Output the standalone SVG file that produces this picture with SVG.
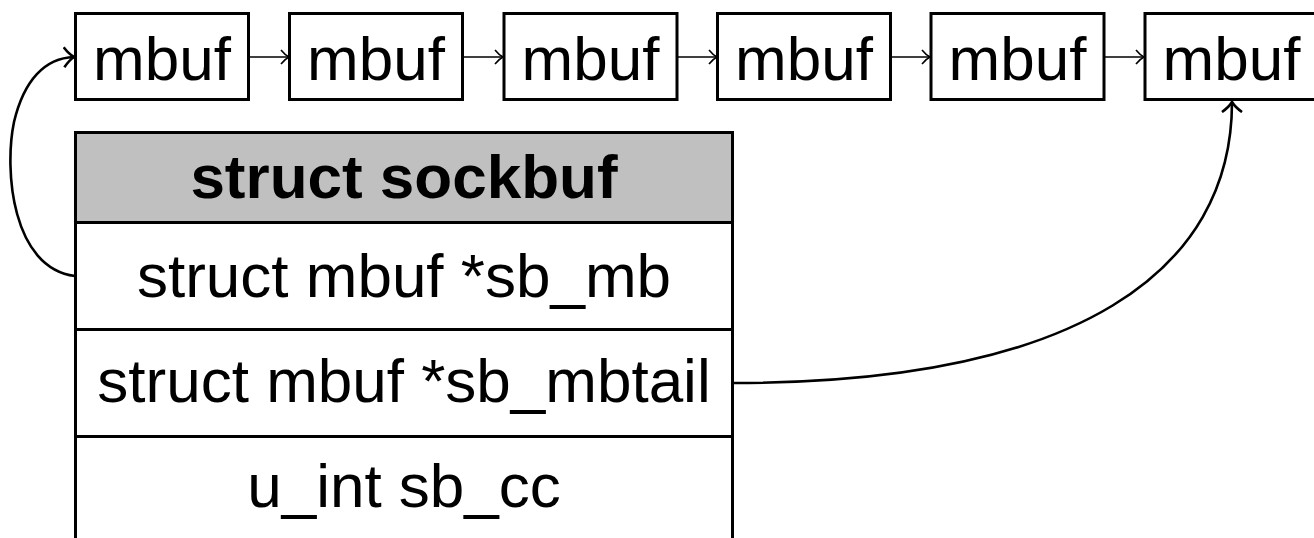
<svg xmlns="http://www.w3.org/2000/svg" width="1314" height="538" viewBox="0 0 1314 538">
<style>
.box{fill:#fff;stroke:#000;stroke-width:3}
.hdr{fill:#c0c0c0;stroke:#000;stroke-width:3}
.t{font-family:"Liberation Sans",Arial,sans-serif;font-size:62px;fill:#000;text-anchor:middle}
.b{font-weight:bold}
.thin{fill:none;stroke:#000;stroke-width:1.6;marker-end:url(#ah)}
.curve{fill:none;stroke:#000;stroke-width:2.6;marker-end:url(#ahb)}
</style>
<defs>
<marker id="ah" markerUnits="userSpaceOnUse" markerWidth="12" markerHeight="18" refX="9" refY="8" orient="auto" viewBox="0 0 12 16">
<path d="M1,1 Q5,6 9,8 Q5,10 1,15" fill="none" stroke="#000" stroke-width="1.6"/>
</marker>
<marker id="ahb" markerUnits="userSpaceOnUse" markerWidth="14" markerHeight="24" refX="11" refY="11" orient="auto" viewBox="0 0 14 22">
<path d="M1,1 Q6,8 11,11 Q6,14 1,21" fill="none" stroke="#000" stroke-width="2.6"/>
</marker>
</defs>
<g id="mbuf1"><rect class="box" x="75.5" y="13.5" width="173" height="86"/><text class="t" x="162" y="80">mbuf</text></g>
<g id="mbuf2"><rect class="box" x="289.5" y="13.5" width="173" height="86"/><text class="t" x="376" y="80">mbuf</text></g>
<g id="mbuf3"><rect class="box" x="504" y="13.5" width="173" height="86"/><text class="t" x="590.5" y="80">mbuf</text></g>
<g id="mbuf4"><rect class="box" x="717.5" y="13.5" width="173" height="86"/><text class="t" x="804" y="80">mbuf</text></g>
<g id="mbuf5"><rect class="box" x="931" y="13.5" width="173" height="86"/><text class="t" x="1017.5" y="80">mbuf</text></g>
<g id="mbuf6"><rect class="box" x="1145" y="13.5" width="173" height="86"/><text class="t" x="1231.5" y="80">mbuf</text></g>
<g id="sockbuf">
<rect class="hdr" x="75.5" y="132.5" width="657" height="90"/>
<text class="t b" x="404" y="198">struct sockbuf</text>
<rect class="box" x="75.5" y="222.5" width="657" height="107"/>
<text class="t" x="404" y="297">struct mbuf *sb_mb</text>
<rect class="box" x="75.5" y="329.5" width="657" height="107"/>
<text class="t" x="404" y="402">struct mbuf *sb_mbtail</text>
<rect class="box" x="75.5" y="436.5" width="657" height="120"/>
<text class="t" x="404" y="507">u_int sb_cc</text>
</g>
<g id="connectors">
<path class="thin" d="M248,57 L289,57"/>
<path class="thin" d="M462,57 L503,57"/>
<path class="thin" d="M677,57 L717,57"/>
<path class="thin" d="M890,57 L930,57"/>
<path class="thin" d="M1104,57 L1144,57"/>
<path class="curve" d="M75,276 C12,268 4,170 14,122 C24,80 45,58 74,57"/>
<path class="curve" d="M733,383 C1080,383 1232,270 1232,102"/>
</g>
</svg>
